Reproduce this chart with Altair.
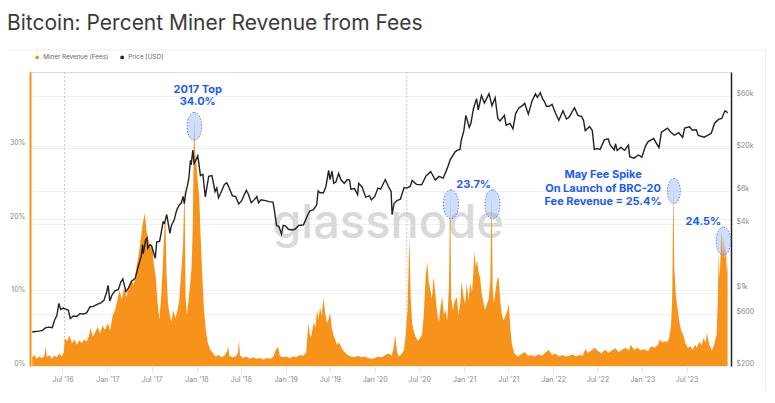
import altair as alt
import pandas as pd

# ---------------- data ----------------
fee_series = [
    ("2016-02-28",1.2),("2016-03-08",1.5),("2016-03-18",1.0),("2016-03-28",1.3),("2016-04-08",1.1),("2016-04-18",1.4),
    ("2016-04-23",2.7),("2016-04-28",1.2),("2016-05-08",1.5),("2016-05-18",1.0),("2016-05-28",1.4),("2016-06-08",1.2),
    ("2016-06-18",1.7),("2016-06-28",1.3),("2016-07-06",1.8),("2016-07-11",3.8),("2016-07-20",3.4),("2016-07-30",4.1),
    ("2016-08-09",3.1),("2016-08-19",3.6),("2016-08-29",2.9),("2016-09-08",3.5),("2016-09-18",3.1),("2016-09-28",3.6),
    ("2016-10-08",3.3),("2016-10-17",4.0),("2016-10-24",5.2),("2016-11-02",4.0),("2016-11-12",4.6),("2016-11-22",5.3),
    ("2016-12-02",4.4),("2016-12-12",5.5),("2016-12-22",4.9),
    ("2017-01-03",5.8),("2017-01-12",4.8),("2017-01-22",6.8),("2017-02-01",7.6),("2017-02-10",8.8),("2017-02-20",10.3),
    ("2017-03-01",9.1),("2017-03-10",10.6),("2017-03-20",9.4),("2017-03-30",10.9),("2017-04-09",11.8),("2017-04-19",11.0),
    ("2017-04-29",13.2),("2017-05-08",14.9),("2017-05-16",16.8),("2017-05-24",19.0),("2017-06-03",20.8),("2017-06-10",18.4),
    ("2017-06-18",17.2),("2017-06-26",16.0),("2017-07-03",16.7),("2017-07-10",13.8),("2017-07-18",12.1),("2017-07-25",8.8),
    ("2017-08-02",6.3),("2017-08-10",9.8),("2017-08-17",14.4),("2017-08-26",21.2),("2017-08-31",12.8),("2017-09-06",8.5),
    ("2017-09-13",7.0),("2017-09-20",6.0),("2017-09-28",7.6),("2017-10-06",6.5),("2017-10-14",7.4),("2017-10-22",8.8),
    ("2017-10-31",13.1),("2017-11-07",16.5),("2017-11-13",24.9),("2017-11-17",9.5),("2017-11-23",7.0),("2017-11-30",9.2),
    ("2017-12-07",11.5),("2017-12-12",13.5),("2017-12-17",19.5),("2017-12-22",33.7),("2017-12-26",29.0),("2017-12-31",27.6),
    ("2018-01-06",25.2),("2018-01-12",23.0),("2018-01-18",17.5),("2018-01-24",12.8),("2018-01-31",8.0),("2018-02-08",4.9),
    ("2018-02-16",3.2),("2018-02-26",2.2),("2018-03-08",1.8),("2018-03-20",1.3),("2018-04-02",1.5),("2018-04-14",1.2),
    ("2018-04-26",1.4),("2018-05-06",2.0),("2018-05-10",2.7),("2018-05-16",1.4),("2018-05-28",1.2),("2018-06-10",1.3),
    ("2018-06-20",1.8),("2018-06-24",3.5),("2018-06-28",1.5),("2018-07-10",1.1),("2018-07-24",1.3),("2018-08-07",1.0),
    ("2018-08-21",1.2),("2018-09-04",1.0),("2018-09-18",1.1),("2018-10-02",0.9),("2018-10-16",1.1),("2018-10-30",1.0),
    ("2018-11-12",1.3),("2018-11-22",2.2),("2018-12-01",2.6),("2018-12-08",1.4),("2018-12-20",1.2),
    ("2019-01-03",1.3),("2019-01-17",1.1),("2019-01-31",1.3),("2019-02-14",1.2),("2019-02-28",1.5),("2019-03-14",1.4),
    ("2019-03-26",1.8),("2019-04-04",5.8),("2019-04-12",3.8),("2019-04-18",4.4),("2019-04-26",6.0),("2019-05-04",5.2),
    ("2019-05-09",7.6),("2019-05-16",6.4),("2019-05-22",8.1),("2019-05-28",6.8),("2019-06-05",9.3),("2019-06-12",7.2),
    ("2019-06-19",5.8),("2019-06-26",6.4),("2019-07-02",7.2),("2019-07-09",5.2),("2019-07-16",4.2),("2019-07-23",3.6),
    ("2019-07-30",2.9),("2019-08-08",3.2),("2019-08-19",2.4),("2019-08-30",1.9),("2019-09-12",1.5),("2019-09-26",1.3),
    ("2019-10-10",1.2),("2019-10-24",1.4),("2019-11-07",1.2),("2019-11-21",1.3),("2019-12-05",1.1),("2019-12-19",1.0),
    ("2020-01-02",1.1),("2020-01-16",1.3),("2020-01-30",1.2),("2020-02-13",1.5),("2020-02-27",1.7),("2020-03-10",1.4),
    ("2020-03-18",2.4),("2020-03-25",4.2),("2020-04-01",2.0),("2020-04-08",1.3),("2020-04-20",1.6),("2020-04-30",2.2),
    ("2020-05-06",4.0),("2020-05-14",7.5),("2020-05-22",17.6),("2020-05-27",9.5),("2020-06-02",5.8),("2020-06-10",4.6),
    ("2020-06-16",4.0),("2020-06-26",3.4),("2020-07-05",3.8),("2020-07-13",4.4),("2020-07-20",7.0),("2020-07-27",12.1),
    ("2020-08-03",14.2),("2020-08-09",11.4),("2020-08-16",10.3),("2020-08-22",9.2),("2020-08-29",12.1),("2020-09-05",9.8),
    ("2020-09-12",7.4),("2020-09-19",5.8),("2020-09-26",7.9),("2020-10-03",9.4),("2020-10-10",7.0),("2020-10-16",7.6),
    ("2020-10-24",6.2),("2020-10-31",11.0),("2020-11-05",23.5),("2020-11-09",9.4),("2020-11-16",7.6),("2020-11-23",8.8),
    ("2020-12-02",9.4),("2020-12-09",7.0),("2020-12-16",8.5),("2020-12-22",11.6),("2020-12-29",9.4),
    ("2021-01-05",8.5),("2021-01-12",11.3),("2021-01-19",8.9),("2021-01-26",11.3),("2021-02-02",10.0),("2021-02-08",12.8),
    ("2021-02-12",15.6),("2021-02-18",13.4),("2021-02-23",14.4),("2021-03-01",12.8),("2021-03-07",12.1),("2021-03-14",9.9),
    ("2021-03-21",8.6),("2021-03-28",7.6),("2021-04-04",8.4),("2021-04-11",9.0),("2021-04-18",11.4),("2021-04-24",23.5),
    ("2021-04-28",10.4),("2021-05-03",8.5),("2021-05-10",10.4),("2021-05-17",11.8),("2021-05-22",12.1),("2021-05-29",8.9),
    ("2021-06-05",6.9),("2021-06-12",6.2),("2021-06-20",6.9),("2021-06-28",7.6),("2021-07-03",8.5),("2021-07-10",4.9),
    ("2021-07-16",2.9),("2021-07-26",1.7),("2021-08-09",1.3),("2021-08-23",1.6),("2021-09-06",1.9),("2021-09-20",1.4),
    ("2021-10-04",1.5),("2021-10-18",1.3),("2021-11-01",1.6),("2021-11-15",1.4),("2021-11-29",1.8),("2021-12-13",2.2),
    ("2021-12-27",1.5),
    ("2022-01-10",1.7),("2022-01-24",1.3),("2022-02-07",1.5),("2022-02-21",1.3),("2022-03-07",1.4),("2022-03-21",1.6),
    ("2022-04-04",1.3),("2022-04-18",1.5),("2022-05-02",1.4),("2022-05-12",2.3),("2022-05-23",1.8),("2022-06-06",2.1),
    ("2022-06-20",2.5),("2022-07-04",2.0),("2022-07-18",1.7),("2022-08-01",2.2),("2022-08-15",1.8),("2022-08-29",2.1),
    ("2022-09-12",2.4),("2022-09-26",1.9),("2022-10-10",2.2),("2022-10-24",2.5),("2022-11-07",2.1),("2022-11-14",2.9),
    ("2022-11-28",2.2),("2022-12-12",2.5),("2022-12-26",2.1),
    ("2023-01-09",2.3),("2023-01-23",2.0),("2023-02-06",2.7),("2023-02-20",2.5),("2023-03-06",2.9),("2023-03-14",3.6),
    ("2023-03-24",3.2),("2023-04-04",3.4),("2023-04-11",3.2),("2023-04-20",3.7),("2023-04-28",5.3),("2023-05-03",8.8),
    ("2023-05-08",24.8),("2023-05-12",13.3),("2023-05-18",9.7),("2023-05-25",7.8),("2023-06-01",6.1),("2023-06-09",4.8),
    ("2023-06-17",4.3),("2023-06-26",3.1),("2023-07-06",2.5),("2023-07-16",2.7),("2023-07-26",2.2),("2023-08-05",2.9),
    ("2023-08-12",2.5),("2023-08-22",3.3),("2023-09-01",2.8),("2023-09-08",3.8),("2023-09-18",3.2),("2023-09-22",4.6),
    ("2023-10-02",2.9),("2023-10-13",2.1),("2023-10-22",2.9),("2023-11-01",4.3),("2023-11-06",9.0),("2023-11-10",15.3),
    ("2023-11-14",12.0),("2023-11-18",16.0),("2023-11-22",18.4),("2023-11-27",15.0),("2023-12-01",17.5),("2023-12-05",14.5),
    ("2023-12-09",16.5),("2023-12-13",12.6),("2023-12-16",14.0),
]

price_series = [
    ("2016-02-28",410),("2016-03-12",415),("2016-03-28",418),("2016-04-10",425),("2016-04-22",448),("2016-05-06",455),
    ("2016-05-20",450),("2016-05-30",530),("2016-06-08",580),("2016-06-16",752),("2016-06-24",660),("2016-07-04",680),
    ("2016-07-15",665),("2016-07-25",650),("2016-08-02",545),("2016-08-15",575),("2016-08-28",570),("2016-09-10",605),
    ("2016-09-25",600),("2016-10-08",615),("2016-10-22",700),("2016-11-05",705),("2016-11-20",735),("2016-12-05",760),
    ("2016-12-18",800),("2016-12-28",940),("2017-01-04",1100),("2017-01-11",790),("2017-01-20",900),("2017-02-01",980),
    ("2017-02-15",1010),("2017-02-25",1180),("2017-03-05",1260),("2017-03-18",960),("2017-03-28",1040),("2017-04-10",1200),
    ("2017-04-25",1280),("2017-05-07",1630),("2017-05-20",2050),("2017-05-25",2600),("2017-05-28",2150),("2017-06-06",2850),
    ("2017-06-12",3000),("2017-06-15",2400),("2017-06-25",2600),("2017-07-02",2490),("2017-07-16",1950),("2017-07-22",2750),
    ("2017-08-03",2800),("2017-08-10",3400),("2017-08-17",4200),("2017-08-23",4100),("2017-09-01",4900),("2017-09-14",3300),
    ("2017-09-20",3900),("2017-10-01",4350),("2017-10-12",5400),("2017-10-20",5900),("2017-10-31",6300),("2017-11-07",7200),
    ("2017-11-12",6200),("2017-11-18",7800),("2017-11-26",9300),("2017-12-01",10800),("2017-12-07",15500),("2017-12-10",14000),
    ("2017-12-17",19200),("2017-12-22",14500),("2017-12-28",15200),("2018-01-06",17000),("2018-01-10",14800),("2018-01-17",11200),
    ("2018-01-27",11500),("2018-02-06",7150),("2018-02-14",9200),("2018-02-20",11000),("2018-03-05",11200),("2018-03-18",8000),
    ("2018-03-25",8600),("2018-04-01",7000),("2018-04-12",7900),("2018-04-25",9300),("2018-05-05",9600),("2018-05-15",8600),
    ("2018-05-28",7300),("2018-06-10",7200),("2018-06-23",6150),("2018-07-05",6600),("2018-07-24",8200),("2018-08-01",7600),
    ("2018-08-13",6300),("2018-08-25",6700),("2018-09-05",7200),("2018-09-12",6300),("2018-09-22",6700),("2018-10-10",6600),
    ("2018-10-25",6450),("2018-11-10",6400),("2018-11-15",5600),("2018-11-20",4600),("2018-11-25",3900),("2018-12-05",3800),
    ("2018-12-15",3250),("2018-12-22",3900),("2019-01-01",3850),("2019-01-12",3600),("2019-01-27",3550),("2019-02-08",3600),
    ("2019-02-24",3900),("2019-03-15",3950),("2019-04-02",4900),("2019-04-10",5300),("2019-04-25",5450),("2019-05-08",6000),
    ("2019-05-14",8100),("2019-05-22",7800),("2019-06-05",7800),("2019-06-15",8900),("2019-06-26",12500),("2019-07-02",10300),
    ("2019-07-10",12300),("2019-07-17",9500),("2019-07-26",9800),("2019-08-06",11700),("2019-08-15",10300),("2019-08-29",9500),
    ("2019-09-10",10300),("2019-09-20",10200),("2019-09-25",8400),("2019-10-10",8500),("2019-10-23",7500),("2019-10-27",9500),
    ("2019-11-10",8800),("2019-11-25",7100),("2019-12-10",7300),("2019-12-18",6700),("2020-01-01",7200),("2020-01-14",8600),
    ("2020-01-25",8400),("2020-02-13",10300),("2020-02-27",8800),("2020-03-08",8000),("2020-03-12",4900),("2020-03-20",6200),
    ("2020-04-01",6600),("2020-04-15",6800),("2020-04-30",8700),("2020-05-11",8600),("2020-05-25",8900),("2020-06-02",10100),
    ("2020-06-20",9300),("2020-07-11",9200),("2020-07-29",11100),("2020-08-17",12200),("2020-09-05",10200),("2020-09-20",11000),
    ("2020-10-07",10600),("2020-10-23",12900),("2020-11-05",15600),("2020-11-25",18500),("2020-12-05",19200),("2020-12-15",19400),
    ("2020-12-20",23500),("2020-12-31",29000),("2021-01-08",40000),("2021-01-22",31000),("2021-01-29",34000),("2021-02-08",46000),
    ("2021-02-21",57000),("2021-02-28",45000),("2021-03-13",61000),("2021-03-25",52000),("2021-04-13",63000),("2021-04-25",49000),
    ("2021-05-08",58000),("2021-05-19",37400),("2021-05-28",35500),("2021-06-15",40000),("2021-06-22",32500),("2021-07-08",33700),
    ("2021-07-20",30000),("2021-07-31",41500),("2021-08-14",47000),("2021-08-25",48500),("2021-09-06",51500),("2021-09-21",41000),
    ("2021-10-06",54000),("2021-10-20",63000),("2021-10-28",58500),("2021-11-09",64500),("2021-11-18",57000),("2021-11-26",53500),
    ("2021-12-04",48500),("2021-12-15",48500),("2021-12-27",50500),("2022-01-10",42000),("2022-01-24",36000),("2022-02-10",44000),
    ("2022-02-24",37000),("2022-03-07",38500),("2022-03-29",47000),("2022-04-12",40000),("2022-04-27",39000),("2022-05-05",36000),
    ("2022-05-12",29000),("2022-05-30",31500),("2022-06-10",29000),("2022-06-18",19500),("2022-06-30",19800),("2022-07-12",19500),
    ("2022-07-29",23800),("2022-08-14",24300),("2022-08-22",21400),("2022-09-08",19300),("2022-09-13",22000),("2022-09-20",19000),
    ("2022-10-05",20300),("2022-10-20",19100),("2022-11-05",21300),("2022-11-10",16700),("2022-11-28",16200),("2022-12-15",17300),
    ("2022-12-30",16550),("2023-01-14",21000),("2023-01-25",23000),("2023-02-16",24500),("2023-03-10",20200),("2023-03-20",28000),
    ("2023-04-14",30500),("2023-04-26",28300),("2023-05-12",26300),("2023-05-30",27700),("2023-06-15",25100),("2023-06-23",30500),
    ("2023-07-13",31400),("2023-07-25",29200),("2023-08-10",29500),("2023-08-18",26100),("2023-09-11",25200),("2023-09-25",26200),
    ("2023-10-10",27400),("2023-10-24",33900),("2023-11-09",36700),("2023-11-22",37500),("2023-12-05",44000),("2023-12-10",43500),
    ("2023-12-16",42000),
]

series_names = ["Miner Revenue (Fees)", "Price [USD]"]
x_range = ["2016-02-19", "2023-12-30"]
x_tick_dates = ["2016-07-01", "2017-01-01", "2017-07-01", "2018-01-01", "2018-07-01", "2019-01-01",
                "2019-07-01", "2020-01-01", "2020-07-01", "2021-01-01", "2021-07-01", "2022-01-01",
                "2022-07-01", "2023-01-01", "2023-07-01"]
pct_ticks = [0, 10, 20, 30]
price_ticks = [200, 600, 1000, 4000, 8000, 20000, 60000]
halving_dates = ["2016-07-09", "2020-05-11"]

note_lines = ["2017 Top", "34.0%", "23.7%", "May Fee Spike", "On Launch of BRC-20",
              "Fee Revenue = 25.4%", "24.5%"]
note_dates = ["2018-01-06", "2018-01-06", "2021-02-09", "2022-07-24", "2022-07-24", "2022-07-24", "2023-09-08"]
note_pct = [37.6, 35.9, 24.6, 26.0, 24.1, 22.3, 19.6]

spike_dates = ["2017-12-23", "2020-11-08", "2021-04-27", "2023-05-10", "2023-11-29"]
spike_pct = [32.6, 22.0, 22.0, 23.8, 17.0]
spike_height = [28, 29, 29, 25, 28]

# ---------------- styling ----------------
ORANGE = "#f7931a"
BLUE = "#1a5cf8"
GRAY = "#8a8a8a"
FONT = "Inter"
ELLIPSE = "M0,-1A0.52,1,0,1,1,0,1A0.52,1,0,1,1,0,-1Z"


def dt(s):
    y, m, d = (int(v) for v in s.split("-"))
    return alt.DateTime(year=y, month=m, date=d)


fee_df = pd.DataFrame(fee_series, columns=["date", "pct"])
price_df = pd.DataFrame(price_series, columns=["date", "usd"])
notes_df = pd.DataFrame({"date": note_dates, "pct": note_pct, "text": note_lines})
spikes_df = pd.DataFrame({"date": spike_dates, "pct": spike_pct, "size": [h * h for h in spike_height]})
halving_df = pd.DataFrame({"date": halving_dates})
legend_df = pd.DataFrame({"series": series_names, "date": [fee_series[0][0]] * 2, "pct": [1.0, 1.0]})
one = pd.DataFrame({"k": [0]})

x_scale = alt.Scale(domain=[dt(x_range[0]), dt(x_range[1])])
x_axis = alt.Axis(values=[dt(d) for d in x_tick_dates], format="%b '%y", domain=False, grid=False,
                  tickColor="#e3e3e3", tickSize=5, labelPadding=4, labelColor=GRAY, labelFontSize=7,
                  labelFont=FONT, title=None)
X = alt.X("date:T", scale=x_scale, axis=x_axis, title=None)

pct_scale = alt.Scale(domain=[0, 40], nice=False, zero=True)
pct_axis = alt.Axis(values=pct_ticks, labelExpr="datum.value + '%'", domainColor=ORANGE, domainWidth=2,
                    ticks=False, labelColor=GRAY, labelFontSize=7, labelFont=FONT, labelPadding=5,
                    labelOffset=-3, grid=True, gridColor="#f1f1f1", title=None)
Ypct = alt.Y("pct:Q", scale=pct_scale, axis=pct_axis, title=None)

price_axis = alt.Axis(orient="right", values=price_ticks,
                      labelExpr="datum.value >= 1000 ? '$' + (datum.value / 1000) + 'k' : '$' + datum.value",
                      domainColor="#222222", domainWidth=1.5, ticks=False, labelColor=GRAY, labelFontSize=7,
                      labelFont=FONT, labelPadding=5, labelOffset=-3, grid=True, gridColor="#f1f1f1", title=None)
Yprice = alt.Y("usd:Q", scale=alt.Scale(type="log", domain=[200, 100000], nice=False), axis=price_axis, title=None)

card = alt.Chart(one).mark_rect(fillOpacity=0, stroke="#ececec", strokeWidth=1).encode(
    x=alt.value(-23), x2=alt.value(735.5), y=alt.value(-22), y2=alt.value(330))

watermark = alt.Chart(one).mark_text(text="glassnode", font=FONT, fontSize=47, fontWeight=500,
                                     color="#d9d9d9", align="center", baseline="alphabetic").encode(
    x=alt.value(358), y=alt.value(166))

halvings = alt.Chart(halving_df).mark_rule(color="#c4c4c4", strokeDash=[2, 2], strokeWidth=1).encode(x=X)

area = alt.Chart(fee_df).mark_area(color=ORANGE, opacity=1, interpolate="linear").encode(x=X, y=Ypct)

legend_pts = alt.Chart(legend_df).mark_point(filled=True, opacity=0).encode(
    x=X, y=Ypct,
    color=alt.Color("series:N", scale=alt.Scale(domain=series_names, range=[ORANGE, "#222222"]),
                    legend=alt.Legend(orient="none", legendX=4, legendY=-18, direction="horizontal",
                                      title=None, symbolType="circle", symbolSize=14, symbolOpacity=1,
                                      symbolStrokeWidth=0, labelFontSize=6.3, labelColor="#666666",
                                      labelFont=FONT, columnPadding=10, labelOffset=3, padding=0)))

ellipses = alt.Chart(spikes_df).mark_point(shape=ELLIPSE, filled=True, fill="#8aaef0", fillOpacity=0.4,
                                           stroke="#4d7ff0", strokeWidth=1, strokeDash=[1.5, 1.5],
                                           strokeOpacity=0.9).encode(
    x=X, y=Ypct, size=alt.Size("size:Q", scale=None, legend=None))

notes = alt.Chart(notes_df).mark_text(font=FONT, fontSize=11, fontWeight="bold", color=BLUE,
                                      align="center", baseline="middle").encode(
    x=X, y=Ypct, text="text:N")

price_line = alt.Chart(price_df).mark_line(color="#222222", strokeWidth=1.4, interpolate="linear").encode(
    x=X, y=Yprice)

fee_group = alt.layer(card, watermark, halvings, area, legend_pts, ellipses, notes)

chart = alt.layer(fee_group, price_line).resolve_scale(y="independent").properties(
    width=701, height=294, autosize="none",
    padding={"left": 22, "top": 64, "right": 36, "bottom": 23},
    title=alt.TitleParams("Bitcoin: Percent Miner Revenue from Fees", anchor="start", frame="group",
                          orient="top", fontSize=21, font=FONT, fontWeight=400, color="#3a3a3a",
                          dx=-23, dy=23, offset=22, baseline="alphabetic"),
).configure_view(stroke=None).configure(font=FONT)

chart.save("out.html", embed_options={"renderer": "svg", "actions": False})
